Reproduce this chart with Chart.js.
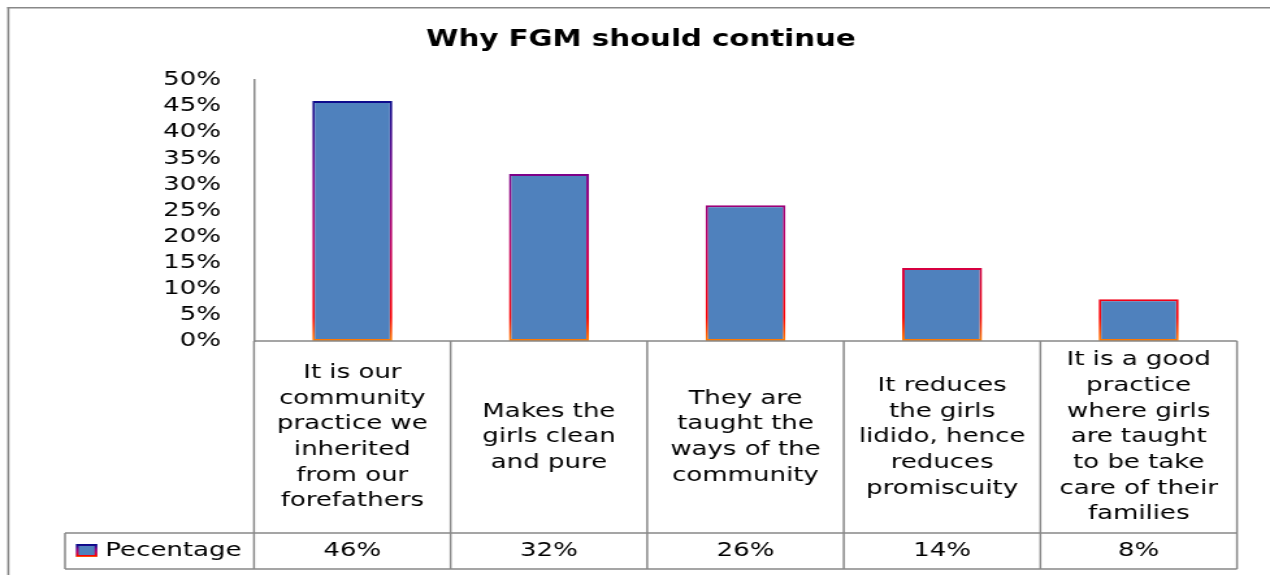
<!DOCTYPE html>
<html>
<head>
<meta charset="utf-8">
<script src="https://cdn.jsdelivr.net/npm/chart.js@4"></script>
<style>
  html, body { margin: 0; padding: 0; background: #fff; overflow: hidden; }
  /* the reference is a horizontally stretched picture: draw at 977px wide and stretch to 1270px */
  #wrap { width: 977px; height: 575px; position: relative; transform: scaleX(1.29990); transform-origin: 0 0; }
</style>
</head>
<body>
<div id="wrap"><canvas id="c"></canvas></div>
<script>
const chartTitle = 'Why FGM should continue';
const seriesName = 'Pecentage';
const categories = [
  ['It is our', 'community', 'practice we', 'inherited', 'from our', 'forefathers'],
  ['Makes the', 'girls clean', 'and pure'],
  ['They are', 'taught the', 'ways of the', 'community'],
  ['It reduces', 'the girls', 'lidido, hence', 'reduces', 'promiscuity'],
  ['It is a good', 'practice', 'where girls', 'are taught', 'to be take', 'care of their', 'families']
];
const values = [46, 32, 26, 14, 8];
const yMax = 50;
const yStep = 5;

const FONT = 'DejaVu Sans';
const GRID = '#888888';

function borderGradient(ctx, top, bottom) {
  const g = ctx.createLinearGradient(0, top, 0, bottom);
  g.addColorStop(0, '#0a0a8a');
  g.addColorStop(0.08, '#0c0c8c');
  g.addColorStop(0.37, '#800088');
  g.addColorStop(0.62, '#c00064');
  g.addColorStop(0.91, '#ff0000');
  g.addColorStop(1, '#ff8000');
  return g;
}

const tablePlugin = {
  id: 'dataTable',
  beforeDraw(chart) {
    const ctx = chart.ctx;
    ctx.save();
    ctx.fillStyle = GRID;
    ctx.fillRect(5.6, 7, 1.6, 575);
    ctx.fillRect(5.6, 7, 980, 1.5);
    ctx.restore();
  },
  afterDraw(chart) {
    const ctx = chart.ctx;
    const a = chart.chartArea;
    const x = chart.scales.x;
    const n = categories.length;
    const cw = (a.right - a.left) / n;
    const rowTop = a.bottom + 192;
    const rowBot = rowTop + 36;
    const legLeft = 50;
    ctx.save();
    ctx.strokeStyle = GRID;
    ctx.lineWidth = 1.5;
    ctx.beginPath();
    ctx.moveTo(a.left, a.bottom); ctx.lineTo(a.right, a.bottom);
    ctx.moveTo(legLeft, rowTop); ctx.lineTo(a.right, rowTop);
    ctx.moveTo(legLeft, rowBot); ctx.lineTo(a.right, rowBot);
    ctx.moveTo(legLeft, rowTop); ctx.lineTo(legLeft, rowBot);
    for (let i = 0; i <= n; i++) {
      const px = i < n ? x.getPixelForValue(i) - cw / 2 : x.getPixelForValue(n - 1) + cw / 2;
      ctx.moveTo(px, a.bottom); ctx.lineTo(px, rowBot);
    }
    ctx.stroke();

    ctx.fillStyle = '#000';
    ctx.font = '20px "' + FONT + '"';
    ctx.textAlign = 'center';
    ctx.textBaseline = 'middle';
    const lh = 25.7;
    const midY = (a.bottom + rowTop) / 2;
    categories.forEach((lines, i) => {
      const cx = x.getPixelForValue(i);
      const y0 = midY - (lines.length - 1) * lh / 2;
      lines.forEach((t, j) => ctx.fillText(t, cx, y0 + j * lh));
    });
    const rowMid = (rowTop + rowBot) / 2;
    values.forEach((v, i) => {
      ctx.fillText(v + '%', x.getPixelForValue(i), rowMid);
    });
    // legend key
    ctx.fillStyle = '#4f81bd';
    ctx.fillRect(58.5, rowMid - 7, 16.3, 13);
    ctx.strokeStyle = borderGradient(ctx, rowMid - 7, rowMid + 6);
    ctx.lineWidth = 2;
    ctx.strokeRect(59.5, rowMid - 6, 14.3, 11);
    ctx.fillStyle = '#000';
    ctx.textAlign = 'left';
    ctx.fillText(seriesName, 81, rowMid);
    ctx.restore();
  }
};

new Chart(document.getElementById('c'), {
  type: 'bar',
  data: {
    labels: categories,
    datasets: [{
      label: seriesName,
      data: values,
      backgroundColor: '#4f81bd',
      borderColor: (c) => {
        const ca = c.chart.chartArea;
        if (!ca) return '#800088';
        return borderGradient(c.chart.ctx, ca.top, ca.bottom);
      },
      borderWidth: 2,
      borderSkipped: false,
      barPercentage: 0.407,
      categoryPercentage: 1
    }]
  },
  options: {
    responsive: true,
    maintainAspectRatio: false,
    animation: false,
    layout: { padding: { left: 9.2, right: 0, top: 0, bottom: 234 } },
    plugins: {
      legend: { display: false },
      tooltip: { enabled: false },
      title: {
        display: true,
        text: chartTitle,
        color: '#000',
        font: { family: FONT, size: 22.5, weight: 'bold' },
        padding: { top: 27, bottom: 26 }
      }
    },
    scales: {
      x: { display: false },
      y: {
        min: 0,
        max: yMax,
        afterFit: (s) => { s.width = 186.2; },
        grid: { display: false, drawTicks: false },
        border: { display: true, color: GRID, width: 1.5 },
        ticks: {
          stepSize: yStep,
          autoSkip: false,
          padding: 25.4,
          color: '#000',
          font: { family: FONT, size: 20 },
          callback: (v) => v + '%'
        }
      },
      yRight: {
        position: 'right',
        display: true,
        min: 0,
        max: yMax,
        afterFit: (s) => { s.width = 25.4; },
        grid: { display: false, drawTicks: false },
        border: { display: false },
        ticks: { display: false }
      }
    }
  },
  plugins: [tablePlugin]
});
</script>
</body>
</html>
